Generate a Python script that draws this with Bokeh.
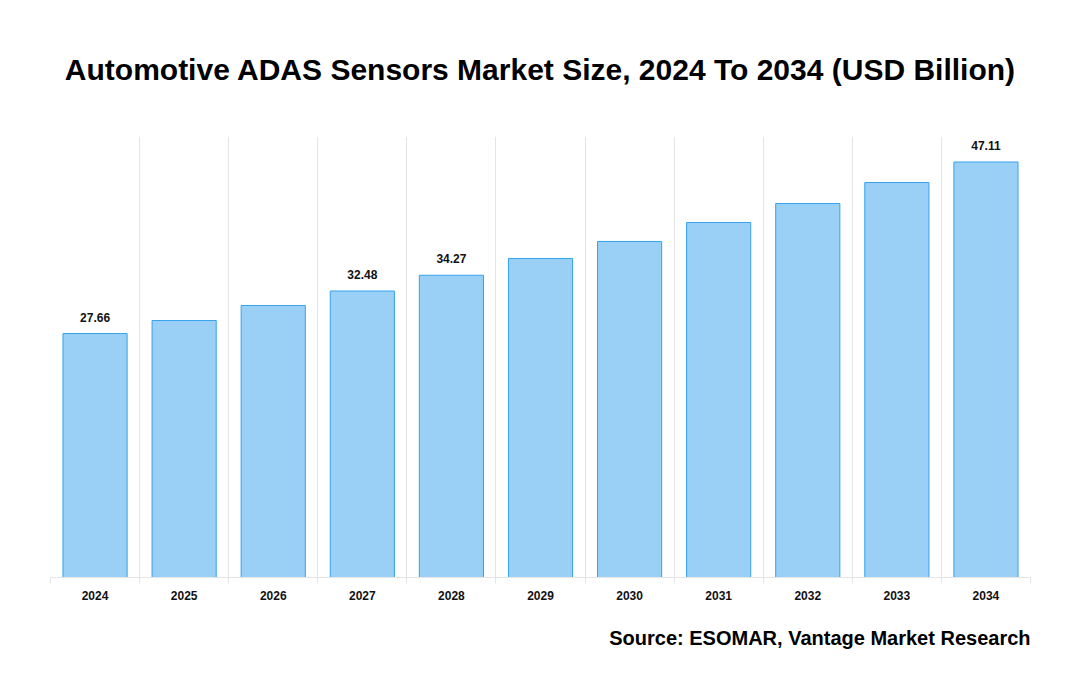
from bokeh.plotting import figure
from bokeh.models import ColumnDataSource, FixedTicker, Range1d, Title
from bokeh.core.properties import value
from bokeh.embed import file_html
from bokeh.resources import INLINE

years = ["2024", "2025", "2026", "2027", "2028", "2029", "2030", "2031", "2032", "2033", "2034"]
market_size = [27.66, 29.14, 30.84, 32.48, 34.27, 36.17, 38.10, 40.25, 42.40, 44.78, 47.11]
labeled_years = ["2024", "2027", "2028", "2034"]

title_text = "Automotive ADAS Sensors Market Size, 2024 To 2034 (USD Billion)"
source_text = "Source: ESOMAR, Vantage Market Research"

FONT = "Liberation Sans"

centers = [i + 0.5 for i in range(len(years))]
bounds = [float(i) for i in range(len(years) + 1)]

src = ColumnDataSource(dict(x=centers, top=market_size, year=years))
lab_x = [centers[years.index(y)] for y in labeled_years]
lab_v = [market_size[years.index(y)] for y in labeled_years]
lab_src = ColumnDataSource(dict(x=lab_x, y=lab_v, t=["%.2f" % v for v in lab_v]))

p = figure(width=1064, height=684, output_backend="svg", toolbar_location=None,
           x_range=Range1d(0, len(years)), y_range=Range1d(0, 50))
p.min_border_left = 50
p.min_border_right = 34
p.min_border_top = 136
p.min_border_bottom = 107
p.outline_line_color = None
p.background_fill_color = "white"
p.border_fill_color = "white"

p.title.text = title_text
p.title.align = "center"
p.title.text_font = FONT
p.title.text_font_size = "30px"
p.title.text_font_style = "bold"
p.title.text_color = "#000000"
p.title.standoff = 101

p.add_layout(Title(text=source_text, align="right", text_font=FONT, text_font_size="20px",
                   text_font_style="bold", text_color="#000000", standoff=45), "below")

p.vbar(x="x", top="top", width=0.72, source=src,
       fill_color="#36a2eb", fill_alpha=0.5, line_color="#36a2eb", line_width=1)

p.text(x="x", y="y", text="t", source=lab_src, text_align="center", text_baseline="bottom",
       y_offset=-12, text_font=value(FONT), text_font_size="12px", text_font_style="bold",
       text_color="#111111")

p.yaxis.visible = False
p.ygrid.visible = False

p.xgrid.ticker = FixedTicker(ticks=bounds)
p.xgrid.grid_line_color = "#e5e5e5"
p.xgrid.grid_line_width = 1

ax = p.xaxis[0]
ax.ticker = FixedTicker(ticks=centers, minor_ticks=bounds)
ax.major_label_overrides = {c: y for c, y in zip(centers, years)}
ax.major_tick_line_color = None
ax.major_tick_out = 0
ax.major_tick_in = 0
ax.minor_tick_line_color = "#e5e5e5"
ax.minor_tick_out = 6
ax.minor_tick_in = 0
ax.axis_line_color = "#e5e5e5"
ax.major_label_standoff = 7
ax.major_label_text_font = FONT
ax.major_label_text_font_size = "12px"
ax.major_label_text_font_style = "bold"
ax.major_label_text_color = "#111111"

open("out.html", "w").write(file_html(p, INLINE))
